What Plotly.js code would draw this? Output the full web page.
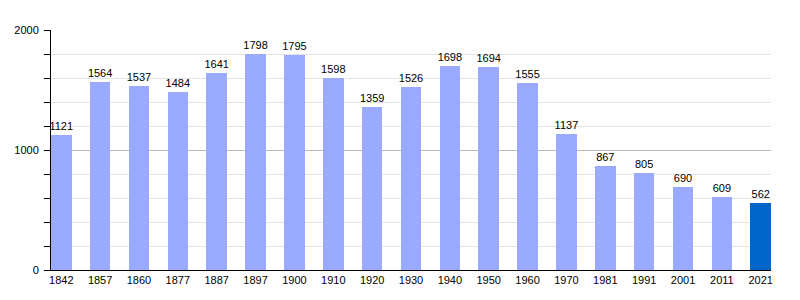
<!DOCTYPE html>
<html>
<head>
<meta charset="utf-8">
<script src="https://cdn.plot.ly/plotly-3.0.1.min.js"></script>
<style>html,body{margin:0;padding:0;background:#fff;}#chart{width:800px;height:300px;}</style>
</head>
<body>
<div id="chart"></div>
<script>
const years = ["1842","1857","1860","1877","1887","1897","1900","1910","1920","1930","1940","1950","1960","1970","1981","1991","2001","2011","2021"];
const population = [1121,1564,1537,1484,1641,1798,1795,1598,1359,1526,1698,1694,1555,1137,867,805,690,609,562];
const barColor = "#99aaff";
const lastColor = "#0066cc";

const colors = years.map((y, i) => i === years.length - 1 ? lastColor : barColor);

const trace = {
  type: "bar",
  x: years,
  y: population,
  marker: {color: colors, line: {width: 0}},
  width: 0.528,
  text: population.map(String),
  textposition: "outside",
  textfont: {family: "Liberation Sans, Arial, sans-serif", size: 11, color: "#000"},
  constraintext: "none",
  cliponaxis: false,
  hoverinfo: "none"
};

const layout = {
  width: 800,
  height: 300,
  margin: {l: 51, r: 29, t: 30, b: 30},
  paper_bgcolor: "#fff",
  plot_bgcolor: "#fff",
  showlegend: false,
  font: {family: "Liberation Sans, Arial, sans-serif", size: 11, color: "#000"},
  xaxis: {
    type: "category",
    range: [-0.264, 18.264],
    showline: true,
    linecolor: "#000",
    linewidth: 1,
    ticks: "",
    showgrid: false,
    tickfont: {size: 11, color: "#000"},
    fixedrange: true
  },
  yaxis: {
    range: [0, 2000],
    dtick: 1000,
    tick0: 0,
    showline: true,
    linecolor: "#000",
    linewidth: 1,
    ticks: "outside",
    ticklen: 6,
    tickcolor: "#000",
    ticklabelstandoff: 3,
    showgrid: true,
    gridcolor: "#bbbbbb",
    zeroline: false,
    tickfont: {size: 11, color: "#000"},
    minor: {dtick: 200, tick0: 0, showgrid: true, gridcolor: "#e3e3e3", ticks: "outside", ticklen: 6, tickcolor: "#000"},
    fixedrange: true
  },
  bargap: 0
};

Plotly.newPlot("chart", [trace], layout, {staticPlot: true, displayModeBar: false});
</script>
</body>
</html>
